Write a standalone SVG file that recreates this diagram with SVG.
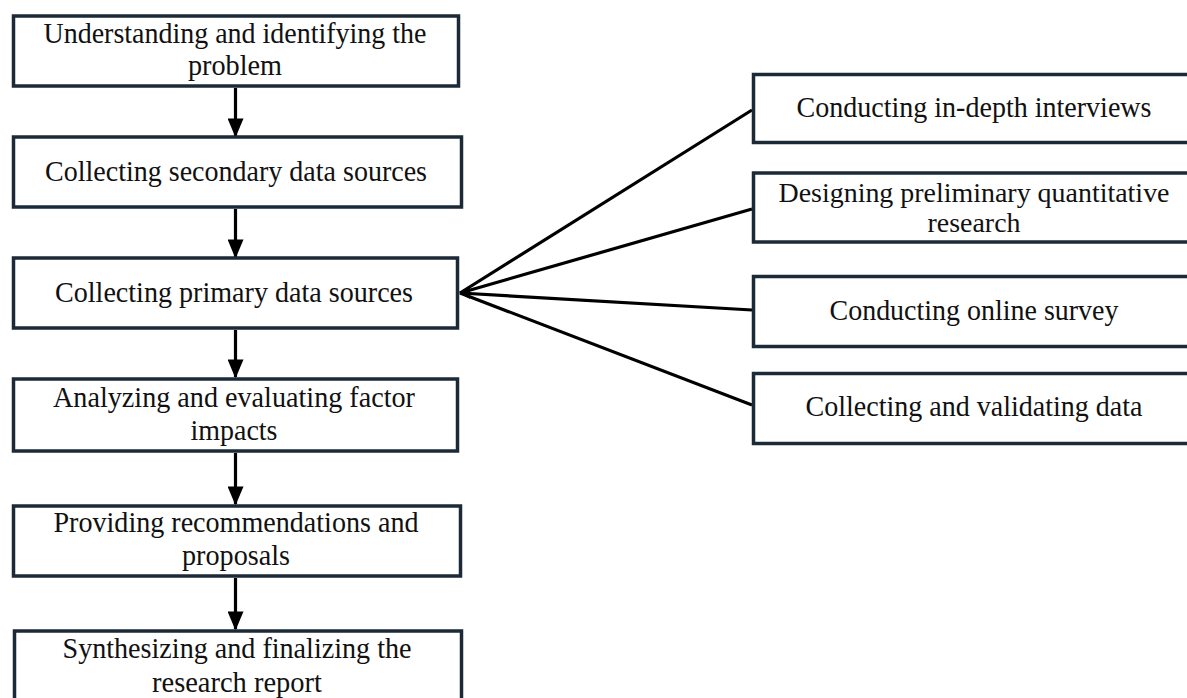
<svg xmlns="http://www.w3.org/2000/svg" width="1187" height="698" viewBox="0 0 1187 698">
<defs>
<style>
.box{fill:#ffffff;stroke:#1c2a38;stroke-width:3.5}
.t{font-family:"Liberation Serif","Times New Roman",serif;font-size:30px;fill:#111;text-anchor:middle}
.s{font-size:28px}
.ln{stroke:#000;stroke-width:3.2;fill:none}
</style>
<marker id="ah" markerWidth="6" markerHeight="5" refX="5.5" refY="2.5" orient="auto" markerUnits="strokeWidth">
<path d="M0,0 L6,2.5 L0,5 Z" fill="#000"/>
</marker>
</defs>
<rect width="1187" height="698" fill="#ffffff"/>
<g id="connectors">
<line class="ln" x1="235.5" y1="88" x2="235.5" y2="136" marker-end="url(#ah)"/>
<line class="ln" x1="235.5" y1="209" x2="235.5" y2="257" marker-end="url(#ah)"/>
<line class="ln" x1="235.5" y1="330" x2="235.5" y2="377" marker-end="url(#ah)"/>
<line class="ln" x1="235.5" y1="453" x2="235.5" y2="504" marker-end="url(#ah)"/>
<line class="ln" x1="235.5" y1="578" x2="235.5" y2="629" marker-end="url(#ah)"/>
<line class="ln" x1="752" y1="110" x2="460" y2="293"/>
<line class="ln" x1="752" y1="209" x2="460" y2="293"/>
<line class="ln" x1="752" y1="310" x2="460" y2="293"/>
<line class="ln" x1="752" y1="405" x2="460" y2="293"/>
<path d="M459,293 L470,287 L470,299 Z" fill="#000"/>
</g>
<g id="n1">
<rect class="box" x="13.5" y="16" width="445" height="70"/>
<text class="t" x="235" y="43" textLength="383" lengthAdjust="spacingAndGlyphs">Understanding and identifying the</text>
<text class="t" x="235" y="75" textLength="94" lengthAdjust="spacingAndGlyphs">problem</text>
</g>
<g id="n2">
<rect class="box" x="13.5" y="137" width="448" height="70"/>
<text class="t" x="236" y="181" textLength="382" lengthAdjust="spacingAndGlyphs">Collecting secondary data sources</text>
</g>
<g id="n3">
<rect class="box" x="13.5" y="258" width="444" height="70"/>
<text class="t" x="234" y="302" textLength="358" lengthAdjust="spacingAndGlyphs">Collecting primary data sources</text>
</g>
<g id="n4">
<rect class="box" x="13.5" y="379" width="444" height="72"/>
<text class="t" x="234" y="407" textLength="362" lengthAdjust="spacingAndGlyphs">Analyzing and evaluating factor</text>
<text class="t" x="234" y="440" textLength="87" lengthAdjust="spacingAndGlyphs">impacts</text>
</g>
<g id="n5">
<rect class="box" x="13.5" y="506" width="447" height="70"/>
<text class="t" x="236" y="532" textLength="365" lengthAdjust="spacingAndGlyphs">Providing recommendations and</text>
<text class="t" x="236" y="565" textLength="108" lengthAdjust="spacingAndGlyphs">proposals</text>
</g>
<g id="n6">
<rect class="box" x="14.5" y="631" width="447" height="90"/>
<text class="t" x="237" y="658" textLength="349" lengthAdjust="spacingAndGlyphs">Synthesizing and finalizing the</text>
<text class="t" x="237" y="692" textLength="170" lengthAdjust="spacingAndGlyphs">research report</text>
</g>
<g id="r1">
<rect class="box" x="753.5" y="74.5" width="460" height="68"/>
<text class="t" x="974" y="117" textLength="355" lengthAdjust="spacingAndGlyphs">Conducting in-depth interviews</text>
</g>
<g id="r2">
<rect class="box" x="753.5" y="173" width="460" height="69"/>
<text class="t s" x="974" y="202" textLength="391" lengthAdjust="spacingAndGlyphs">Designing preliminary quantitative</text>
<text class="t s" x="974" y="232" textLength="93" lengthAdjust="spacingAndGlyphs">research</text>
</g>
<g id="r3">
<rect class="box" x="753.5" y="276.5" width="460" height="70"/>
<text class="t" x="974" y="320" textLength="289" lengthAdjust="spacingAndGlyphs">Conducting online survey</text>
</g>
<g id="r4">
<rect class="box" x="753.5" y="373.5" width="460" height="70"/>
<text class="t" x="974" y="416" textLength="337" lengthAdjust="spacingAndGlyphs">Collecting and validating data</text>
</g>
</svg>
